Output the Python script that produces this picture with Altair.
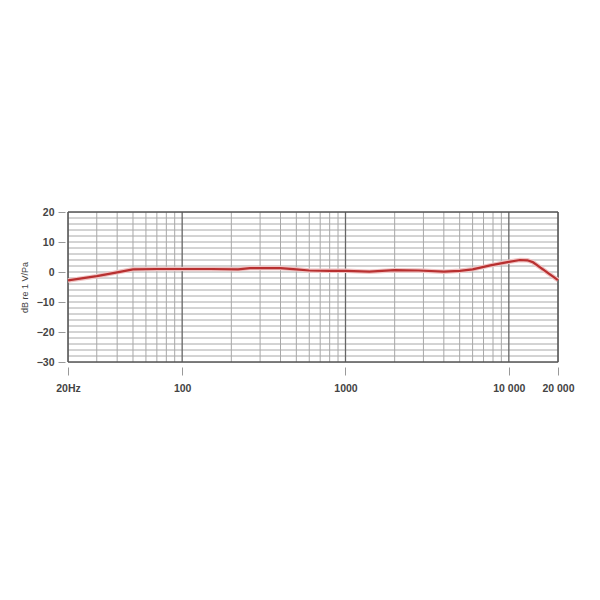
import altair as alt
import pandas as pd

# Frequency response curve (Hz, dB re 1 V/Pa)
freq = [20, 30, 40, 50, 70, 100, 150, 220, 260, 300, 400, 500, 600, 800, 1000, 1400, 2000, 2800, 4000, 5000, 6000, 7700, 10000, 11700, 13000, 14000, 20000]
level = [-2.8, -1.4, -0.1, 0.9, 1.0, 1.0, 1.0, 0.9, 1.3, 1.3, 1.3, 0.9, 0.5, 0.4, 0.4, 0.1, 0.6, 0.5, 0.1, 0.4, 0.9, 2.2, 3.4, 4.0, 3.9, 3.3, -2.7]

# Grid
minor_freqs = [30, 40, 50, 60, 70, 80, 90, 200, 300, 400, 500, 600, 700, 800, 900,
               2000, 3000, 4000, 5000, 6000, 7000, 8000, 9000]
major_freqs = [100, 1000, 10000]
edge_freqs = [20, 20000]
db_grid = list(range(-28, 20, 2))
edge_db = [-30, 20]

x_ticks = [20, 100, 1000, 10000, 20000]
y_ticks = [-30, -20, -10, 0, 10, 20]

curve = pd.DataFrame({"freq": freq, "level": level})
minor_df = pd.DataFrame({"f": minor_freqs})
major_df = pd.DataFrame({"f": major_freqs})
edgef_df = pd.DataFrame({"f": edge_freqs})
hgrid_df = pd.DataFrame({"db": db_grid})
edgedb_df = pd.DataFrame({"db": edge_db})

xscale = alt.Scale(type="log", domain=[20, 20000], nice=False)
yscale = alt.Scale(domain=[-30, 20], nice=False, zero=False)

label_expr = ("datum.value == 20 ? '20Hz' : datum.value == 10000 ? '10 000' : "
              "datum.value == 20000 ? '20 000' : datum.value")

xaxis = alt.Axis(values=x_ticks, labelExpr=label_expr, title=None, grid=False,
                 domain=False, offset=5, tickSize=8, tickColor="#999999",
                 labelPadding=8, labelFontSize=10.5, labelFontWeight="bold",
                 labelColor="#444444", labelFont="Liberation Sans",
                 labelFlush=False, labelOverlap=False)
yaxis = alt.Axis(values=y_ticks, title="dB re 1 V/Pa", grid=False, domain=False,
                 offset=3, tickSize=7, tickColor="#999999", labelPadding=4,
                 labelFontSize=10.5, labelFontWeight="bold", labelColor="#444444",
                 labelFont="Liberation Sans", titleFont="Liberation Sans",
                 titleFontSize=9, titleFontWeight="normal", titleColor="#444444",
                 titlePadding=7)

X = lambda f: alt.X(f, scale=xscale, axis=xaxis)
Y = lambda f: alt.Y(f, scale=yscale, axis=yaxis)

hgrid = alt.Chart(hgrid_df).mark_rule(color="#a8a8a8", strokeWidth=1).encode(y=Y("db:Q"))
vminor = alt.Chart(minor_df).mark_rule(color="#a8a8a8", strokeWidth=1).encode(x=X("f:Q"))
vmajor = alt.Chart(major_df).mark_rule(color="#666666", strokeWidth=1.3).encode(x=X("f:Q"))
vedge = alt.Chart(edgef_df).mark_rule(color="#555555", strokeWidth=1.6).encode(x=X("f:Q"))
hedge = alt.Chart(edgedb_df).mark_rule(color="#555555", strokeWidth=1.6).encode(y=Y("db:Q"))

halo = alt.Chart(curve).mark_line(color="#f0c4c4", strokeWidth=4.5, interpolate="linear").encode(
    x=X("freq:Q"), y=Y("level:Q"))
line = alt.Chart(curve).mark_line(color="#b83030", strokeWidth=2.2, interpolate="linear").encode(
    x=X("freq:Q"), y=Y("level:Q"))

chart = alt.layer(hgrid, vminor, vmajor, vedge, hedge, halo, line).properties(
    width=490, height=150,
    autosize=alt.AutoSizeParams(type="none"),
    padding={"left": 60, "top": 204, "right": 30, "bottom": 230},
).configure_view(stroke=None).configure(background="white")

chart.save("out.html", embed_options={"renderer": "svg", "actions": False})
